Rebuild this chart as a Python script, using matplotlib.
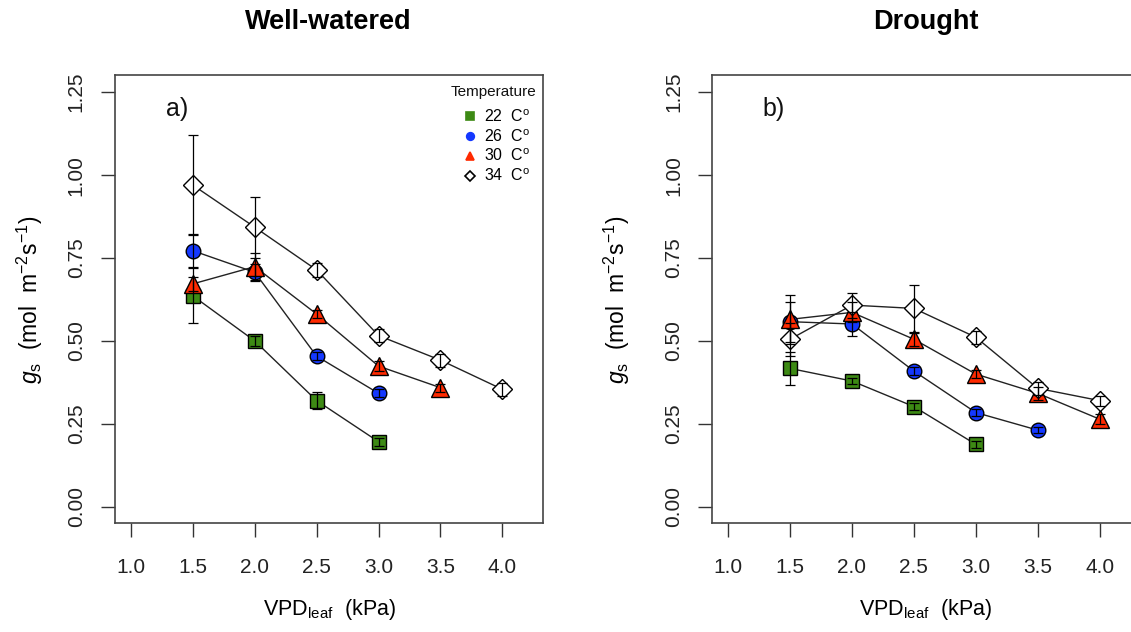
import matplotlib
matplotlib.use("Agg")
import matplotlib.pyplot as plt
from matplotlib.lines import Line2D

plt.rcParams['font.family'] = ['Liberation Sans', 'DejaVu Sans']
plt.rcParams['mathtext.fontset'] = 'custom'
plt.rcParams['mathtext.rm'] = 'Liberation Sans'
plt.rcParams['mathtext.it'] = 'Liberation Sans:italic'

# VPD levels (kPa)
vpd = [1.5, 2.0, 2.5, 3.0, 3.5, 4.0]

temps = ["22", "26", "30", "34"]

# Well-watered stomatal conductance (mean, SE)
ww_22 = [0.636, 0.500, 0.320, 0.196]
ww_22_se = [0.083, 0.015, 0.025, 0.012]
ww_26 = [0.772, 0.707, 0.454, 0.342]
ww_26_se = [0.050, 0.025, 0.012, 0.012]
ww_30 = [0.672, 0.724, 0.581, 0.424, 0.359]
ww_30_se = [0.020, 0.040, 0.012, 0.015, 0.012]
ww_34 = [0.970, 0.843, 0.714, 0.516, 0.442, 0.354]
ww_34_se = [0.150, 0.092, 0.020, 0.020, 0.020, 0.020]

# Drought stomatal conductance (mean, SE)
dr_22 = [0.417, 0.379, 0.302, 0.188]
dr_22_se = [0.050, 0.010, 0.010, 0.010]
dr_26 = [0.558, 0.551, 0.409, 0.284, 0.231]
dr_26_se = [0.060, 0.036, 0.012, 0.010, 0.010]
dr_30 = [0.565, 0.586, 0.505, 0.400, 0.342, 0.264]
dr_30_se = [0.073, 0.030, 0.020, 0.012, 0.020, 0.015]
dr_34 = [0.505, 0.608, 0.598, 0.511, 0.357, 0.320]
dr_34_se = [0.050, 0.038, 0.070, 0.020, 0.020, 0.015]

colors = ["#3d8a14", "#1438ff", "#ff2a00", "white"]
markers = ["s", "o", "^", "D"]
msizes = [9.5, 10.5, 12.5, 10]

x_ticks = [1.0, 1.5, 2.0, 2.5, 3.0, 3.5, 4.0]
y_ticks = [0.00, 0.25, 0.50, 0.75, 1.00, 1.25]

fig = plt.figure(figsize=(11.31, 6.32), dpi=100)
ax_a = fig.add_axes([0.1017, 0.1725, 0.3784, 0.7089])
ax_b = fig.add_axes([0.6298, 0.1725, 0.3784, 0.7089])

panels = [
    (ax_a, [(ww_22, ww_22_se), (ww_26, ww_26_se), (ww_30, ww_30_se), (ww_34, ww_34_se)], "a)"),
    (ax_b, [(dr_22, dr_22_se), (dr_26, dr_26_se), (dr_30, dr_30_se), (dr_34, dr_34_se)], "b)"),
]

for ax, series, tag in panels:
    for i, (vals, se) in enumerate(series):
        xs = vpd[:len(vals)]
        ax.plot(xs, vals, color="#222222", lw=1.0, zorder=2)
        ax.plot(xs, vals, linestyle="none", marker=markers[i], ms=msizes[i],
                mfc=colors[i], mec="black", mew=1.0, zorder=3)
        ax.errorbar(xs, vals, yerr=se, fmt="none", ecolor="black", elinewidth=0.9,
                    capsize=3.5, capthick=0.9, zorder=4)
    ax.set_xlim(0.872, 4.328)
    ax.set_ylim(-0.049, 1.302)
    ax.set_xticks(x_ticks)
    ax.set_xticklabels([f"{v:.1f}" for v in x_ticks])
    ax.set_yticks(y_ticks)
    ax.set_yticklabels([f"{v:.2f}" for v in y_ticks], rotation=90, va="center")
    ax.tick_params(direction="out", length=10, width=1.0, labelsize=15,
                   colors="#333333", labelcolor="#222222")
    ax.tick_params(axis="x", pad=15)
    ax.tick_params(axis="y", pad=11)
    for sp in ax.spines.values():
        sp.set_color("#444444")
        sp.set_linewidth(1.2)
    ax.text(1.37, 1.2, tag, fontsize=18, ha="center", va="center", color="#111111")

# legend in panel a: heading plus one row per temperature
ax_a.text(0.884, 0.963, "Temperature", transform=ax_a.transAxes, ha="center", va="center",
          fontsize=11, color="#111111")
handles = [Line2D([], [], linestyle="none", marker=m, ms=5.5, mfc=c, mec=("black" if c == "white" else c),
                  mew=1.2) for m, c in zip(markers, colors)]
labels = [f"{t}  C$^{{\\mathregular{{o}}}}$" for t in temps]
leg = ax_a.legend(handles, labels, loc="upper right", frameon=False,
                  fontsize=11.5, handletextpad=0.4, labelspacing=0.2,
                  borderaxespad=0.0, borderpad=0.0, bbox_to_anchor=(0.97, 0.926),
                  handlelength=1.0)

# panel titles
fig.text(328 / 1131, 1 - 22 / 632, "Well-watered", ha="center", va="center",
         fontsize=19.5, fontweight="bold")
fig.text(926 / 1131, 1 - 22 / 632, "Drought", ha="center", va="center",
         fontsize=19.5, fontweight="bold")

ylabel = r"$\mathit{g}_{\mathregular{s}}$  (mol  m$^{-2}$s$^{-1}$)"
xlabel = r"VPD$_{\mathregular{leaf}}$  (kPa)"
fig.text(30 / 1131, 1 - 300 / 632, ylabel, rotation=90, ha="center", va="center", fontsize=16.5)
fig.text(617 / 1131, 1 - 300 / 632, ylabel, rotation=90, ha="center", va="center", fontsize=16.5)
fig.text(330 / 1131, 1 - 610 / 632, xlabel, ha="center", va="center", fontsize=15.5)
fig.text(926 / 1131, 1 - 610 / 632, xlabel, ha="center", va="center", fontsize=15.5)

fig.savefig("out.png", dpi=100)
